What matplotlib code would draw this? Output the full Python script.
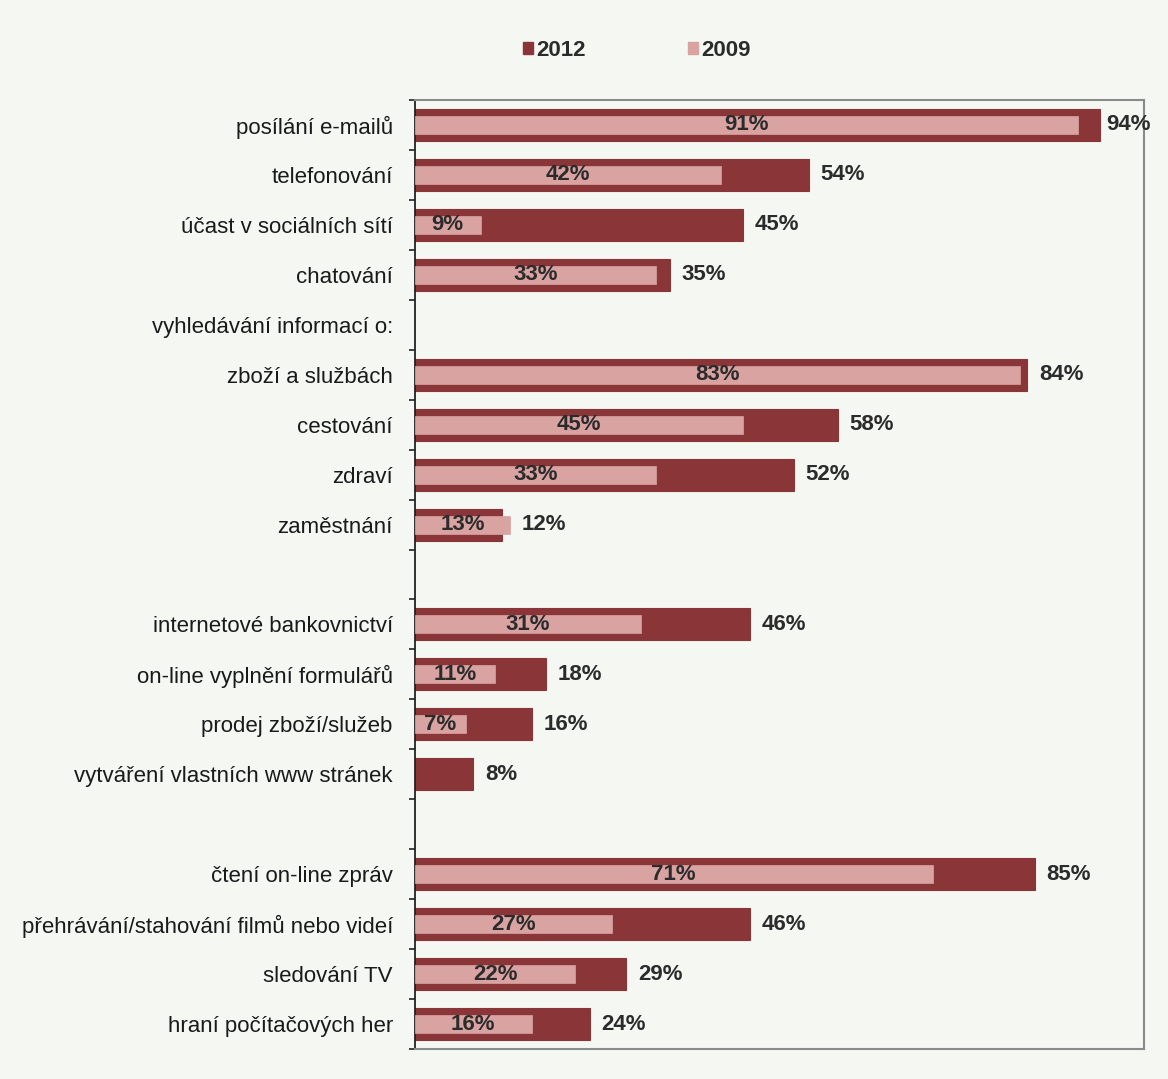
import numpy as np
import matplotlib
matplotlib.use("Agg")
import matplotlib.pyplot as plt
from matplotlib.patches import Patch

# categories top to bottom, empty strings are spacer rows
categories = ["posílání e-mailů", "telefonování", "účast v sociálních sítí", "chatování",
              "vyhledávání informací o:", "zboží a službách", "cestování", "zdraví",
              "zaměstnání", "", "internetové bankovnictví", "on-line vyplnění formulářů",
              "prodej zboží/služeb", "vytváření vlastních www stránek", "",
              "čtení on-line zpráv", "přehrávání/stahování filmů nebo videí",
              "sledování TV", "hraní počítačových her"]
values_2012 = [94, 54, 45, 35, None, 84, 58, 52, 12, None, 46, 18, 16, 8, None, 85, 46, 29, 24]
values_2009 = [91, 42, 9, 33, None, 83, 45, 33, 13, None, 31, 11, 7, None, None, 71, 27, 22, 16]

dark = "#8a3538"
light = "#d9a3a2"
bg = "#f5f7f3"
txt = "#2b2b2b"

plt.rcParams['font.family'] = ['Liberation Sans', 'DejaVu Sans']

fig = plt.figure(figsize=(11.68, 10.79), dpi=100, facecolor=bg)
ax = fig.add_axes([0.3553, 0.0278, 0.6242, 0.8795])
ax.set_facecolor(bg)

y = np.arange(len(categories))
for i in range(len(categories)):
    v12 = values_2012[i]
    v09 = values_2009[i]
    if v12 is not None:
        ax.barh(y[i], v12, height=0.64, color=dark, edgecolor=dark, linewidth=0.8, zorder=2)
        end = max(v12, v09 or 0)
        gap = 0.8 if end > 90 else 1.6
        ax.text(end + gap, y[i], f"{v12}%", va="center", ha="left",
                fontsize=16, fontweight="bold", color=txt, zorder=4)
    if v09 is not None:
        ax.barh(y[i], v09, height=0.36, color=light, edgecolor=light, linewidth=0.5, zorder=3)
        ax.text(v09 / 2, y[i], f"{v09}%", va="center", ha="center",
                fontsize=16, fontweight="bold", color=txt, zorder=4)

ax.set_xlim(0, 100)
ax.set_ylim(len(categories) - 0.5, -0.5)
ax.set_xticks([])

ax.set_yticks(np.arange(len(categories) + 1) - 0.5)
ax.set_yticklabels([])
ax.tick_params(axis="y", which="major", direction="out", length=4, width=1.2, color="#222")
ax.set_yticks(y, minor=True)
ax.set_yticklabels(categories, minor=True, fontsize=16, color="#1a1a1a")
ax.tick_params(axis="y", which="minor", length=0, pad=16)

for s in ["top", "right", "bottom"]:
    ax.spines[s].set_color("#8a8a8a")
    ax.spines[s].set_linewidth(1.5)
ax.spines["left"].set_color("#222")
ax.spines["left"].set_linewidth(1.3)

handles = [Patch(color=dark, label="2012"), Patch(color=light, label="2009")]
fig.legend(handles=handles, loc="center", bbox_to_anchor=(0.545, 0.953), ncol=2,
           frameon=False, handlelength=0.45, handleheight=0.45, handletextpad=0.15,
           columnspacing=4.6, prop={"size": 16, "weight": "bold"}, labelcolor=txt)

fig.savefig("out.png", dpi=100, facecolor=bg)
